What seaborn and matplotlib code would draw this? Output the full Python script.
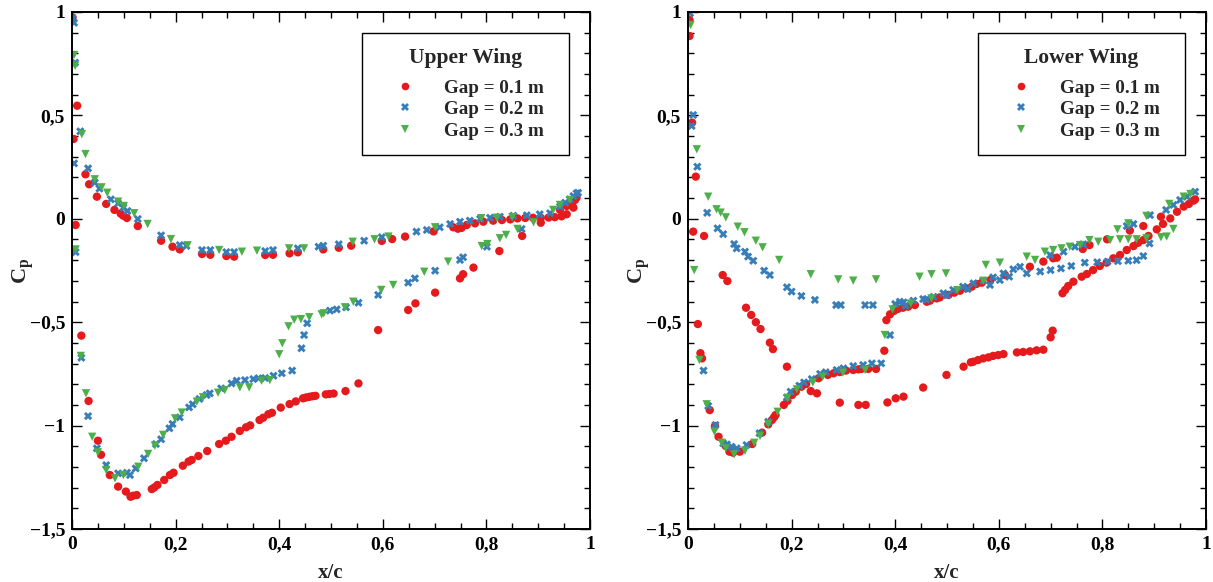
import matplotlib
matplotlib.use("Agg")
import matplotlib.pyplot as plt
from matplotlib.ticker import MultipleLocator, FuncFormatter
import numpy as np
import pandas as pd
import seaborn as sns

# ---------------- Upper wing: x/c and Cp per gap ----------------
up_x_01 = [0.001, 0.003, 0.010, 0.007, 0.026, 0.033, 0.048, 0.066, 0.082, 0.094, 0.099, 0.106, 0.127,
           0.172, 0.194, 0.208, 0.251, 0.267, 0.298, 0.313, 0.373, 0.388, 0.420, 0.436, 0.485, 0.515,
           0.539, 0.598, 0.618, 0.643, 0.698, 0.736, 0.745, 0.752, 0.762, 0.778, 0.794, 0.813, 0.830,
           0.846, 0.860, 0.875, 0.890, 0.905, 0.920, 0.932, 0.945, 0.955, 0.942, 0.955, 0.965, 0.971,
           0.974, 0.968,
           0.018, 0.032, 0.050, 0.056, 0.073, 0.089, 0.104, 0.113, 0.118, 0.125, 0.154, 0.159, 0.165,
           0.178, 0.189, 0.196, 0.214, 0.225, 0.231, 0.244, 0.261, 0.284, 0.297, 0.308, 0.324, 0.336,
           0.344, 0.362, 0.369, 0.379, 0.386, 0.403, 0.420, 0.432, 0.446, 0.452, 0.458, 0.464, 0.470,
           0.490, 0.497, 0.505, 0.528, 0.553, 0.591, 0.649, 0.663, 0.701, 0.749, 0.755, 0.775, 0.825,
           0.869, 0.905]
up_cp_01 = [0.974, 0.386, 0.547, -0.030, 0.215, 0.167, 0.107, 0.072, 0.043, 0.025, 0.015, 0.004, -0.035,
            -0.106, -0.135, -0.148, -0.170, -0.174, -0.180, -0.183, -0.175, -0.174, -0.167, -0.162, -0.148,
            -0.140, -0.130, -0.107, -0.098, -0.086, -0.061, -0.041, -0.048, -0.044, -0.030, -0.022, -0.014,
            -0.009, -0.006, -0.003, 0.002, 0.004, 0.005, 0.005, 0.006, 0.008, 0.012, 0.022, 0.043, 0.062,
            0.075, 0.091, 0.102, 0.054,
            -0.565, -0.881, -1.073, -1.141, -1.239, -1.295, -1.319, -1.344, -1.339, -1.336, -1.307, -1.299,
            -1.287, -1.263, -1.239, -1.228, -1.194, -1.174, -1.166, -1.147, -1.123, -1.089, -1.073, -1.054,
            -1.026, -1.008, -0.999, -0.973, -0.962, -0.945, -0.938, -0.913, -0.896, -0.883, -0.868, -0.864,
            -0.861, -0.858, -0.856, -0.849, -0.847, -0.845, -0.833, -0.796, -0.538, -0.441, -0.409, -0.357,
            -0.288, -0.268, -0.236, -0.156, -0.083, -0.019]

up_x_02 = [0.001, 0.004, 0.006, 0.004, 0.007, 0.016, 0.031, 0.044, 0.053, 0.075, 0.089, 0.099, 0.107,
           0.127, 0.172, 0.208, 0.221, 0.251, 0.267, 0.298, 0.313, 0.373, 0.388, 0.436, 0.476, 0.485,
           0.515, 0.564, 0.598, 0.665, 0.685, 0.710, 0.730, 0.749, 0.768, 0.788, 0.807, 0.826, 0.852,
           0.878, 0.903, 0.923, 0.942, 0.952, 0.961, 0.968, 0.974, 0.977,
           0.018, 0.031, 0.048, 0.066, 0.089, 0.106, 0.112, 0.123, 0.139, 0.162, 0.172, 0.188, 0.194,
           0.208, 0.226, 0.233, 0.246, 0.260, 0.266, 0.288, 0.308, 0.318, 0.334, 0.350, 0.360, 0.373,
           0.389, 0.405, 0.425, 0.443, 0.448, 0.454, 0.498, 0.511, 0.529, 0.553, 0.591, 0.649, 0.662,
           0.701, 0.749, 0.755, 0.801, 0.868]
up_cp_02 = [0.970, 0.948, 0.755, 0.268, -0.161, 0.423, 0.244, 0.175, 0.146, 0.094, 0.075, 0.054, 0.038,
            -0.001, -0.080, -0.127, -0.131, -0.151, -0.151, -0.161, -0.161, -0.156, -0.151, -0.143, -0.135,
            -0.130, -0.123, -0.106, -0.089, -0.062, -0.054, -0.041, -0.025, -0.014, -0.009, 0.000, 0.005,
            0.010, 0.015, 0.017, 0.022, 0.027, 0.059, 0.078, 0.094, 0.110, 0.123, 0.126,
            -0.672, -0.954, -1.110, -1.191, -1.231, -1.228, -1.239, -1.207, -1.158, -1.089, -1.066, -1.013,
            -0.992, -0.960, -0.912, -0.897, -0.871, -0.852, -0.844, -0.820, -0.796, -0.783, -0.780, -0.775,
            -0.771, -0.770, -0.759, -0.747, -0.734, -0.626, -0.562, -0.505, -0.444, -0.438, -0.428, -0.406,
            -0.368, -0.309, -0.288, -0.251, -0.199, -0.186, -0.135, -0.049]

up_x_03 = [0.004, 0.006, 0.019, 0.026, 0.007, 0.044, 0.057, 0.068, 0.089, 0.100, 0.120, 0.146, 0.191,
           0.223, 0.284, 0.328, 0.357, 0.419, 0.448, 0.542, 0.584, 0.611, 0.701, 0.790, 0.820, 0.850,
           0.929, 0.942, 0.961,
           0.017, 0.027, 0.039, 0.050, 0.066, 0.083, 0.099, 0.128, 0.147, 0.160, 0.176, 0.199, 0.212,
           0.241, 0.253, 0.282, 0.295, 0.324, 0.342, 0.366, 0.382, 0.400, 0.406, 0.418, 0.429, 0.442,
           0.458, 0.482, 0.486, 0.527, 0.543, 0.597, 0.620, 0.680, 0.726, 0.791, 0.802, 0.826, 0.838,
           0.860, 0.891]
up_cp_03 = [0.792, 0.740, 0.409, 0.313, -0.148, 0.191, 0.152, 0.126, 0.083, 0.062, 0.027, -0.025, -0.098,
            -0.128, -0.151, -0.159, -0.154, -0.143, -0.143, -0.111, -0.099, -0.086, -0.041, 0.003, 0.005,
            0.008, 0.043, 0.067, 0.091,
            -0.663, -0.844, -1.054, -1.129, -1.215, -1.255, -1.239, -1.199, -1.137, -1.097, -1.045, -0.965,
            -0.937, -0.884, -0.863, -0.841, -0.828, -0.815, -0.815, -0.783, -0.780, -0.655, -0.602, -0.520,
            -0.488, -0.485, -0.476, -0.462, -0.457, -0.428, -0.401, -0.344, -0.320, -0.256, -0.207, -0.132,
            -0.122, -0.094, -0.078, -0.049, -0.017]

# ---------------- Lower wing: x/c and Cp per gap ----------------
lo_x_01 = [0.003, 0.003, 0.008, 0.015, 0.010, 0.031, 0.067, 0.076, 0.112, 0.122, 0.131, 0.140, 0.158,
           0.164, 0.191, 0.237, 0.249, 0.293, 0.329, 0.343, 0.385, 0.401, 0.416, 0.454, 0.499, 0.532,
           0.546, 0.551, 0.560, 0.570, 0.580, 0.589, 0.599, 0.609, 0.635, 0.647, 0.660, 0.673, 0.686,
           0.700, 0.704, 0.723, 0.728, 0.734, 0.744, 0.760, 0.770, 0.782, 0.795, 0.808, 0.821, 0.834,
           0.847, 0.860, 0.869, 0.879, 0.889, 0.905, 0.917, 0.931, 0.944, 0.957, 0.967, 0.976, 0.979,
           0.019, 0.024, 0.027, 0.042, 0.052, 0.059, 0.073, 0.080, 0.087, 0.100, 0.124, 0.143, 0.155,
           0.162, 0.166, 0.169, 0.185, 0.192, 0.201, 0.208, 0.219, 0.228, 0.252, 0.270, 0.281, 0.293,
           0.305, 0.319, 0.329, 0.335, 0.348, 0.363, 0.379, 0.383, 0.390, 0.398, 0.405, 0.415, 0.425,
           0.438, 0.461, 0.467, 0.480, 0.486, 0.503, 0.514, 0.525, 0.537, 0.548, 0.557, 0.567, 0.584,
           0.612, 0.660, 0.686, 0.705, 0.712, 0.762, 0.775, 0.809, 0.853, 0.879, 0.913]
lo_cp_01 = [0.961, 0.884, 0.465, 0.204, -0.062, -0.083, -0.272, -0.301, -0.430, -0.465, -0.500, -0.533,
            -0.599, -0.630, -0.715, -0.833, -0.844, -0.889, -0.900, -0.900, -0.888, -0.868, -0.860, -0.816,
            -0.755, -0.715, -0.694, -0.691, -0.683, -0.675, -0.670, -0.663, -0.659, -0.654, -0.646, -0.644,
            -0.641, -0.636, -0.633, -0.573, -0.541, -0.360, -0.344, -0.325, -0.304, -0.280, -0.267, -0.248,
            -0.228, -0.212, -0.191, -0.175, -0.151, -0.132, -0.116, -0.103, -0.083, -0.051, -0.025, 0.002,
            0.034, 0.059, 0.072, 0.088, 0.094,
            -0.509, -0.650, -0.675, -0.925, -1.002, -1.054, -1.099, -1.126, -1.131, -1.126, -1.089, -1.034,
            -0.994, -0.973, -0.960, -0.949, -0.900, -0.880, -0.852, -0.836, -0.812, -0.799, -0.771, -0.755,
            -0.747, -0.741, -0.734, -0.731, -0.728, -0.726, -0.726, -0.726, -0.638, -0.490, -0.462, -0.445,
            -0.436, -0.430, -0.425, -0.417, -0.401, -0.396, -0.385, -0.380, -0.368, -0.357, -0.348, -0.336,
            -0.328, -0.315, -0.309, -0.296, -0.272, -0.232, -0.207, -0.191, -0.188, -0.146, -0.127, -0.099,
            -0.057, -0.035, 0.010]

lo_x_02 = [0.004, 0.010, 0.007, 0.018, 0.037, 0.057, 0.068, 0.089, 0.094, 0.110, 0.116, 0.126, 0.147,
           0.158, 0.191, 0.200, 0.219, 0.245, 0.286, 0.295, 0.342, 0.357,
           0.030, 0.039, 0.053, 0.068, 0.075, 0.084, 0.094, 0.113, 0.138, 0.155, 0.191, 0.198, 0.215,
           0.224, 0.239, 0.255, 0.266, 0.287, 0.300, 0.319, 0.338, 0.355, 0.373, 0.390,
           0.400, 0.409, 0.416, 0.435, 0.454, 0.474, 0.493, 0.512, 0.531, 0.551, 0.570, 0.589, 0.609,
           0.628, 0.641, 0.699, 0.725, 0.747, 0.763, 0.847, 0.860, 0.892, 0.923, 0.937, 0.950, 0.963,
           0.979,
           0.420, 0.460, 0.500, 0.540, 0.583, 0.602, 0.620, 0.654, 0.680, 0.700, 0.720, 0.740, 0.766,
           0.790, 0.810, 0.830, 0.850, 0.866, 0.879, 0.891]
lo_cp_02 = [0.994, 0.502, 0.449, 0.252, 0.029, -0.046, -0.074, -0.122, -0.143, -0.159, -0.183, -0.203,
            -0.251, -0.272, -0.331, -0.352, -0.373, -0.392, -0.417, -0.417, -0.417, -0.417,
            -0.734, -0.905, -0.997, -1.086, -1.091, -1.102, -1.110, -1.094, -1.037, -0.981, -0.863, -0.836,
            -0.807, -0.791, -0.775, -0.750, -0.742, -0.731, -0.723, -0.712, -0.707, -0.699, -0.699, -0.562,
            -0.412, -0.401, -0.404, -0.396, -0.388, -0.377, -0.360, -0.344, -0.328, -0.312, -0.299, -0.283,
            -0.264, -0.244, -0.232, -0.175, -0.159, -0.135, -0.123, -0.035, -0.025, 0.018, 0.043, 0.067,
            0.091, 0.107, 0.131,
            -0.420, -0.390, -0.370, -0.340, -0.320, -0.296, -0.280, -0.264, -0.255, -0.248, -0.240, -0.228,
            -0.212, -0.210, -0.207, -0.205, -0.203, -0.200, -0.180, -0.119]

lo_x_03 = [0.005, 0.017, 0.012, 0.039, 0.055, 0.063, 0.073, 0.096, 0.109, 0.131, 0.144, 0.176, 0.237,
           0.290, 0.319, 0.363, 0.447, 0.470, 0.498, 0.575, 0.602, 0.654, 0.670, 0.689, 0.705, 0.721,
           0.737, 0.757, 0.775, 0.792, 0.815, 0.834, 0.850, 0.866, 0.885, 0.829, 0.850, 0.885, 0.913,
           0.924, 0.937, 0.929, 0.957, 0.970,
           0.022, 0.036, 0.051, 0.065, 0.073, 0.089, 0.110, 0.128, 0.139, 0.155, 0.173, 0.192, 0.210,
           0.241, 0.260, 0.299, 0.342, 0.380, 0.395, 0.430, 0.470, 0.520, 0.570]
lo_cp_03 = [0.937, 0.336, -0.248, 0.107, 0.046, 0.030, 0.007, -0.038, -0.065, -0.106, -0.138, -0.199,
            -0.268, -0.293, -0.299, -0.293, -0.280, -0.268, -0.264, -0.223, -0.212, -0.183, -0.199, -0.159,
            -0.151, -0.143, -0.135, -0.127, -0.103, -0.111, -0.103, -0.099, -0.099, -0.099, -0.094, -0.051,
            -0.022, 0.014, -0.089, -0.086, -0.049, 0.072, 0.107, 0.120,
            -0.683, -0.897, -1.029, -1.083, -1.110, -1.139, -1.121, -1.083, -1.050, -0.992, -0.933, -0.868,
            -0.825, -0.791, -0.764, -0.744, -0.731, -0.562, -0.438, -0.410, -0.385, -0.345, -0.300]

gap_labels = ["Gap = 0.1 m", "Gap = 0.2 m", "Gap = 0.3 m"]
gap_colors = ["#e41a1c", "#377eb8", "#4daf4a"]
gap_markers = ["o", "X", "v"]
x_ticks = [0, 0.2, 0.4, 0.6, 0.8, 1]
y_ticks = [-1.5, -1, -0.5, 0, 0.5, 1]


def make_frame(xs, cps):
    parts = [pd.DataFrame({"x/c": x, "Cp": c, "gap": lab})
             for lab, x, c in zip(gap_labels, xs, cps)]
    return pd.concat(parts, ignore_index=True)


upper_df = make_frame([up_x_01, up_x_02, up_x_03], [up_cp_01, up_cp_02, up_cp_03])
lower_df = make_frame([lo_x_01, lo_x_02, lo_x_03], [lo_cp_01, lo_cp_02, lo_cp_03])

sns.set_theme(style="ticks")
plt.rcParams["font.family"] = ["Liberation Serif", "DejaVu Serif"]
plt.rcParams["font.weight"] = "bold"
plt.rcParams["mathtext.fontset"] = "custom"
plt.rcParams["mathtext.rm"] = "Liberation Serif:bold"
plt.rcParams["mathtext.it"] = "Liberation Serif:bold"
plt.rcParams["mathtext.bf"] = "Liberation Serif:bold"


def comma_fmt(v, _pos):
    v = round(v, 3)
    if v == 0:
        return "0"
    return ("%g" % v).replace(".", ",").replace("-", "\u2212")


fig = plt.figure(figsize=(12.13, 5.82), dpi=100)
W, H = 1213.0, 582.0
ax_up = fig.add_axes([72 / W, 53 / H, 518 / W, 517 / H])
ax_lo = fig.add_axes([688 / W, 53 / H, 518 / W, 517 / H])

palette = dict(zip(gap_labels, gap_colors))
markers = dict(zip(gap_labels, gap_markers))

for ax, df, title in [(ax_up, upper_df, "Upper Wing"), (ax_lo, lower_df, "Lower Wing")]:
    sns.scatterplot(data=df, x="x/c", y="Cp", hue="gap", style="gap",
                    palette=palette, markers=markers, hue_order=gap_labels,
                    style_order=gap_labels, s=36, linewidth=0, ax=ax, legend=True)
    ax.set_xlim(0, 1)
    ax.set_ylim(-1.5, 1)
    ax.set_xticks(x_ticks)
    ax.set_yticks(y_ticks)
    ax.xaxis.set_minor_locator(MultipleLocator(0.05))
    ax.yaxis.set_minor_locator(MultipleLocator(0.1))
    ax.xaxis.set_major_formatter(FuncFormatter(comma_fmt))
    ax.yaxis.set_major_formatter(FuncFormatter(comma_fmt))
    ax.tick_params(which="both", direction="in", top=True, right=True, width=1.0,
                   colors="black", labelsize=14, pad=5)
    ax.tick_params(which="major", length=7)
    ax.tick_params(which="minor", length=4)
    for lbl in ax.get_xticklabels() + ax.get_yticklabels():
        lbl.set_fontweight("bold")
    for sp in ax.spines.values():
        sp.set_linewidth(1.4)
        sp.set_color("black")
    ax.set_xlabel("x/c", fontsize=15, fontweight="bold", labelpad=7)
    ax.set_ylabel(r"$\mathrm{C_p}$", fontsize=16)
    ax.yaxis.set_label_coords(-0.07, 0.5)

    old = ax.get_legend()
    handles = old.legend_handles
    labels = [t.get_text() + "  " for t in old.texts]
    old.remove()
    for h in handles:
        h.set_markersize(5.5)
    leg = ax.legend(handles, labels, title=title, loc="upper right",
                    bbox_to_anchor=(1.0, 1.0), borderaxespad=1.1,
                    prop={"size": 13.7, "weight": "bold"},
                    title_fontproperties={"size": 15.5, "weight": "bold"},
                    frameon=True, fancybox=False, framealpha=1.0, edgecolor="black",
                    borderpad=0.8, handlelength=2.9, handletextpad=0.65,
                    labelspacing=0.22)
    leg.get_frame().set_linewidth(1.0)
    # a little more room between the legend title and its entries
    leg._legend_box.sep = 8

fig.savefig("out.png", dpi=100)
